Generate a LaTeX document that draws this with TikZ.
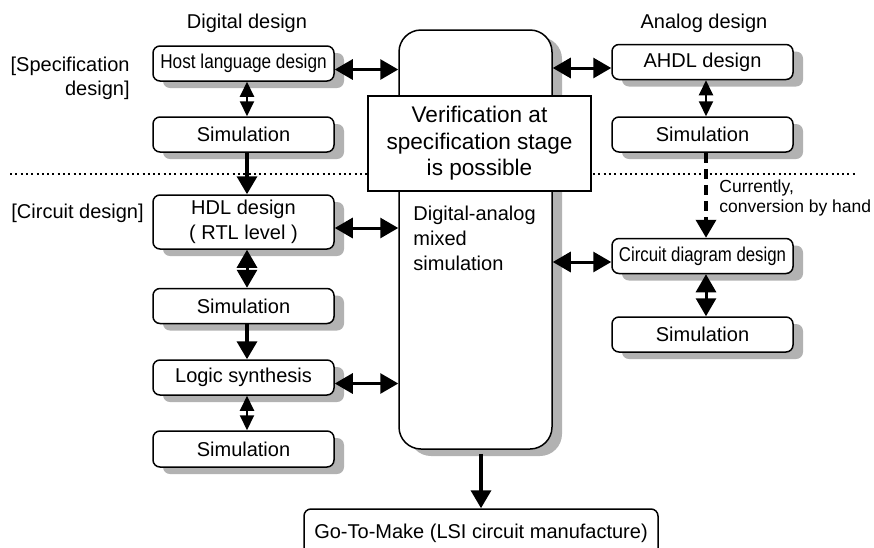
\documentclass[tikz,border=0pt]{standalone}
\usepackage{fontspec}
\usepackage{graphicx}
\setmainfont{Liberation Sans}
\usetikzlibrary{arrows.meta}
\usetikzlibrary{shadows}
\tikzset{blk/.style = {draw, fill = white, rounded corners = 3.5pt, line width = 0.75pt,
                       minimum width = 90.5pt, minimum height = 17.5pt, inner sep = 0, align = center,
                       drop shadow = {shadow xshift = 5pt, shadow yshift = -3.5pt, fill = gray!60, opacity = 1}}}
\tikzset{dbl/.style = {{Triangle[length = 9pt, width = 10pt]}-{Triangle[length = 9pt, width = 10pt]},
                       line width = 1.5pt}}
\tikzset{dblsm/.style = {{Triangle[length = 7.5pt, width = 7pt]}-{Triangle[length = 7.5pt, width = 7pt]},
                         line width = 1pt, transform canvas = {xshift = 1.75pt}}}
\tikzset{dblbig/.style = {{Triangle[length = 9pt, width = 10pt]}-{Triangle[length = 9pt, width = 10pt]},
                          line width = 1.5pt, transform canvas = {xshift = 1.75pt}}}
\tikzset{one/.style = {-{Triangle[length = 9pt, width = 10pt]}, line width = 1.8pt}}
\tikzset{lft/.style = {transform canvas = {yshift = -3pt}}}

\begin{document}
\begin{tikzpicture}[x = 0.5pt, y = -0.5pt]
  \useasboundingbox (0, 0) rectangle (874, 547);
  \draw [line width = 1pt, dash pattern = on 1pt off 1.65pt] (10, 174) -- (855, 174);

  \node (digital) at (247, 23) {Digital design};
  \node (analog) at (704, 23) {Analog design};
  \node [anchor = east, align = right, inner sep = 0] (speclbl) at (130, 78) {[Specification\\design]};
  \node [anchor = west, inner sep = 0] (circlbl) at (11, 213) {[Circuit design]};

  \node [blk, minimum width = 76.5pt, minimum height = 209.5pt, rounded corners = 11pt] (mixed) at (475.5, 239.5) {};
  \node [draw, fill = white, line width = 0.75pt, minimum width = 111.5pt, minimum height = 47.5pt, align = center,
         font = \fontsize{11.3}{13.3}\selectfont] (verif) at (479.5, 143.5) {Verification at\\specification stage\\is possible};
  \node [anchor = west, align = left, inner sep = 0, font = \fontsize{10}{12.5}\selectfont] (mixtxt) at (413, 238)
        {Digital-analog\\mixed\\simulation};

  \node [blk] (host) at (243.5, 63.5) {\scalebox{0.86}[1]{Host language design}};
  \node [blk] (sim1) at (243.5, 134.5) {Simulation};
  \node [blk, minimum height = 27pt, font = \fontsize{10}{12.5}\selectfont] (hdl) at (243.5, 222) {HDL design\\( RTL level )};
  \node [blk] (sim2) at (243.5, 306) {Simulation};
  \node [blk] (logic) at (243.5, 377.5) {Logic synthesis};
  \node [blk, minimum height = 18pt] (sim3) at (243.5, 449) {Simulation};

  \node [blk] (ahdl) at (702.5, 62) {AHDL design};
  \node [blk] (simA) at (702.5, 134.5) {Simulation};
  \node [blk] (circ) at (702.5, 256) {\scalebox{0.84}[1]{Circuit diagram design}};
  \node [blk] (simB) at (702.5, 334.5) {Simulation};
  \node [anchor = west, align = left, inner sep = 0, font = \fontsize{8.75}{10}\selectfont] (hand) at (719, 198)
        {Currently,\\conversion by hand};

  \node [draw, fill = white, rounded corners = 3.5pt, line width = 0.75pt, minimum width = 177pt,
         minimum height = 24pt] (make) at (481, 533) {Go-To-Make (LSI circuit manufacture)};

  \draw [dbl, lft] (host.east) -- (host.east -| mixed.west);
  \draw [dbl, lft] (hdl.east) -- (hdl.east -| mixed.west);
  \draw [dbl, lft] (logic.east) -- (logic.east -| mixed.west);
  \draw [dbl, lft] (ahdl.west) -- (ahdl.west -| mixed.east);
  \draw [dbl, lft] (circ.west) -- (circ.west -| mixed.east);

  \draw [dblsm] (host.south) -- (sim1.north);
  \draw [dblbig] (hdl.south) -- (sim2.north);
  \draw [dblsm] (logic.south) -- (sim3.north);
  \draw [dblsm] (ahdl.south) -- (simA.north);
  \draw [dblbig] (circ.south) -- (simB.north);

  \draw [one, transform canvas = {xshift = 1.75pt}] (sim1.south) -- (hdl.north);
  \draw [one, transform canvas = {xshift = 1.75pt}] (sim2.south) -- (logic.north);
  \draw [one, dash pattern = on 5pt off 3pt, transform canvas = {xshift = 1.75pt}] (simA.south) -- (circ.north);
  \draw [one, shorten <= 2pt] (make.north |- mixed.south) -- (make.north);
\end{tikzpicture}
\end{document}
